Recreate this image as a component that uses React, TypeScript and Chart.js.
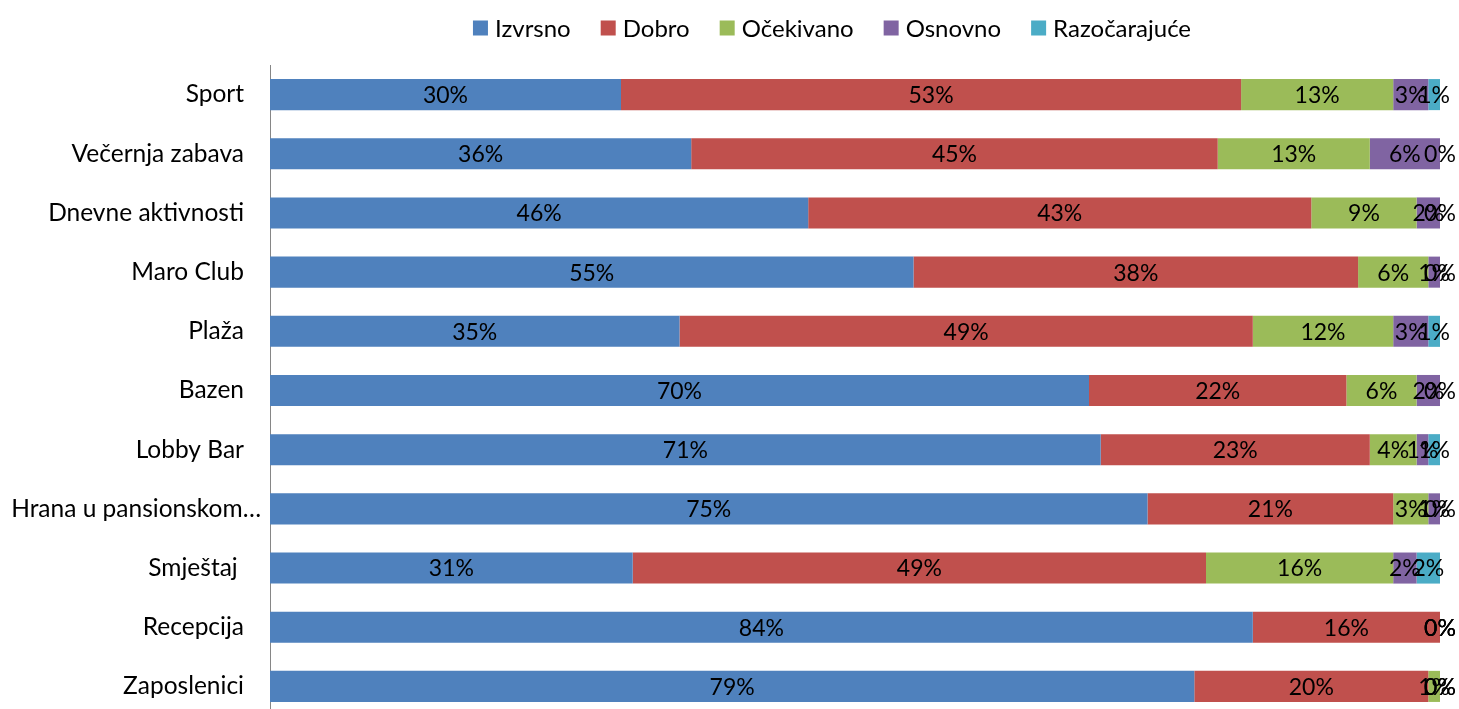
import React, { useEffect, useRef } from "react";
import { Chart, registerables } from "chart.js";

Chart.register(...registerables);

const categories = [
  "Sport",
  "Večernja zabava",
  "Dnevne aktivnosti",
  "Maro Club",
  "Plaža",
  "Bazen",
  "Lobby Bar",
  "Hrana u pansionskom…",
  "Smještaj ",
  "Recepcija",
  "Zaposlenici",
];

const seriesNames = ["Izvrsno", "Dobro", "Očekivano", "Osnovno", "Razočarajuće"];
const seriesColors = ["#4F81BD", "#C0504D", "#9BBB59", "#8064A2", "#4BACC6"];

const izvrsno = [30, 36, 46, 55, 35, 70, 71, 75, 31, 84, 79];
const dobro = [53, 45, 43, 38, 49, 22, 23, 21, 49, 16, 20];
const ocekivano = [13, 13, 9, 6, 12, 6, 4, 3, 16, 0, 1];
const osnovno = [3, 6, 2, 1, 3, 2, 1, 1, 2, 0, 0];
const razocarajuce = [1, 0, 0, 0, 1, 0, 1, 0, 2, 0, 0];

const FONT = "Lato";
const FS_DATA = 23;
const FS_TICK = 24.5;
const FS_LEGEND = 24;

const labelsPlugin = {
  id: "customLabels",
  afterDatasetsDraw(chart: any) {
    const ctx = chart.ctx;
    ctx.save();
    ctx.font = `${FS_DATA}px ${FONT}`;
    ctx.fillStyle = "#000000";
    ctx.textAlign = "center";
    ctx.textBaseline = "middle";
    chart.data.datasets.forEach((ds: any, di: number) => {
      const meta = chart.getDatasetMeta(di);
      meta.data.forEach((el: any, i: number) => {
        const v = ds.data[i];
        const cx = (el.x + el.base) / 2;
        ctx.fillText(`${v}%`, cx, el.y + 1);
      });
    });
    ctx.restore();
  },
  afterDraw(chart: any) {
    const ctx = chart.ctx;
    const area = chart.chartArea;
    const yScale = chart.scales.y;
    ctx.save();
    ctx.font = `${FS_TICK}px ${FONT}`;
    ctx.fillStyle = "#000000";
    ctx.textBaseline = "middle";
    ctx.textAlign = "right";
    categories.forEach((c, i) => {
      const y = yScale.getPixelForValue(i);
      const pad = c.endsWith("…") ? 9 : 26;
      ctx.fillText(c, area.left - pad, y);
    });
    // legend
    ctx.font = `${FS_LEGEND}px ${FONT}`;
    const box = 15;
    const gap = 7;
    const spacing = 30;
    const widths = seriesNames.map((n) => ctx.measureText(n).width);
    const total =
      widths.reduce((a, b) => a + b, 0) + seriesNames.length * (box + gap) + (seriesNames.length - 1) * spacing;
    let x = 832 - total / 2;
    const ly = 28;
    ctx.textAlign = "left";
    seriesNames.forEach((n, i) => {
      ctx.fillStyle = seriesColors[i];
      ctx.fillRect(x, ly - box / 2, box, box);
      ctx.fillStyle = "#000000";
      ctx.fillText(n, x + box + gap, ly + 1);
      x += box + gap + widths[i] + spacing;
    });
    ctx.restore();
  },
};

export default function App() {
  const ref = useRef<HTMLCanvasElement | null>(null);
  useEffect(() => {
    if (!ref.current) return;
    const values = [izvrsno, dobro, ocekivano, osnovno, razocarajuce];
    const chart = new Chart(ref.current, {
      type: "bar",
      data: {
        labels: categories,
        datasets: seriesNames.map((n, i) => ({
          label: n,
          data: values[i],
          backgroundColor: seriesColors[i],
          borderWidth: 0,
          categoryPercentage: 1,
          barPercentage: 0.525,
        })),
      },
      options: {
        indexAxis: "y",
        animation: false,
        responsive: false,
        maintainAspectRatio: false,
        devicePixelRatio: 1,
        layout: { padding: { top: 65, bottom: 4, left: 0, right: 19 } },
        plugins: {
          legend: { display: false },
          tooltip: { enabled: false },
        },
        scales: {
          x: {
            stacked: true,
            min: 0,
            max: 100,
            display: false,
          },
          y: {
            stacked: true,
            grid: { display: false, drawTicks: false },
            border: { display: true, color: "#868686", width: 1 },
            ticks: { display: false },
            afterFit: (scale: any) => {
              scale.width = 270;
            },
          },
        },
      },
      plugins: [labelsPlugin],
    });
    return () => chart.destroy();
  }, []);
  return (
    <div
      style={{
        position: "absolute",
        left: 0,
        top: 0,
        width: 1459,
        height: 709,
        overflow: "hidden",
        background: "#ffffff",
      }}
    >
      <canvas ref={ref} width={1459} height={720} style={{ display: "block" }} />
    </div>
  );
}
